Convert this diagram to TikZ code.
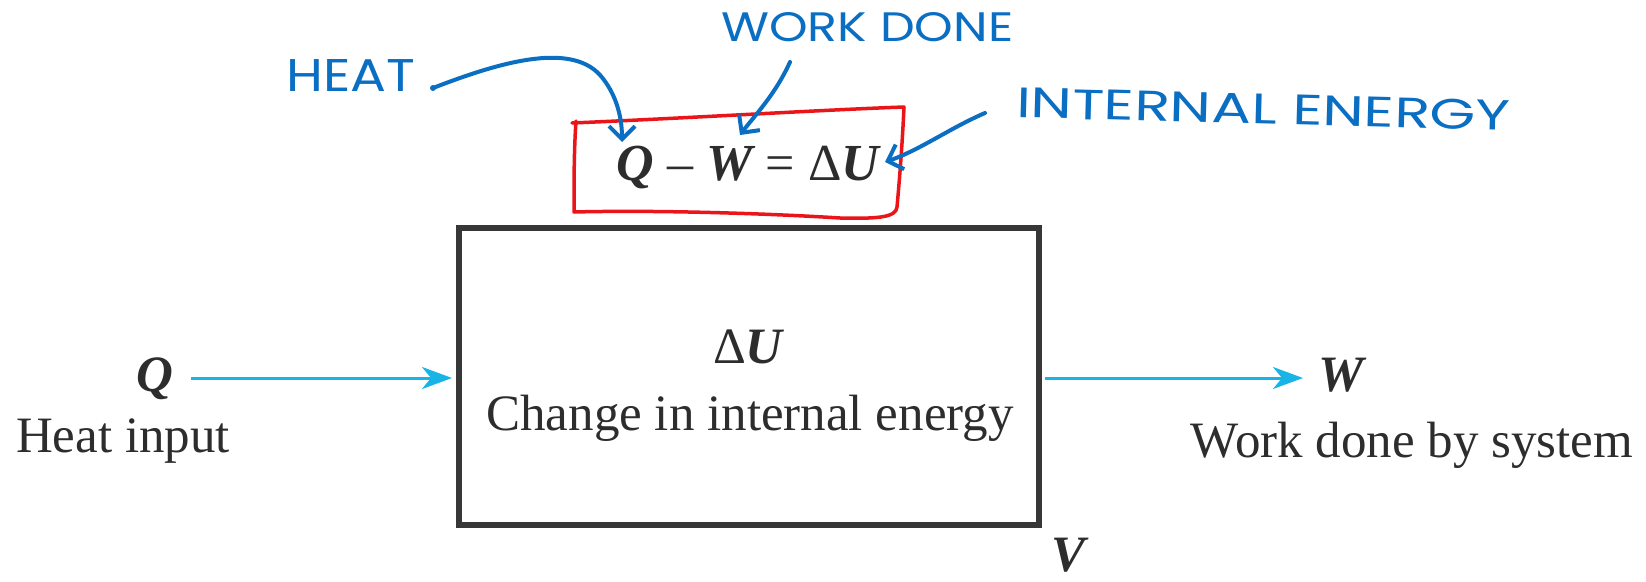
\documentclass[tikz,border=0pt]{standalone}
\usepackage{fontspec}
\setmainfont{Liberation Serif}
\newfontfamily\handfont{Poppins}
\usetikzlibrary{arrows.meta}
\definecolor{ink}{RGB}{45,45,45}
\definecolor{boxgray}{RGB}{55,55,55}
\definecolor{flow}{RGB}{25,180,230}
\definecolor{pen}{RGB}{10,110,195}
\definecolor{marker}{RGB}{235,20,25}
\newcommand{\bi}[1]{{\bfseries\itshape #1}}
\begin{document}
\begin{tikzpicture}[x=1pt,y=-1pt,
  txt/.style={font=\fontsize{51}{60}\selectfont, text=ink, inner sep=0pt, anchor=base},
  flowarrow/.style={draw=flow, line width=3pt, -{Stealth[length=30pt,width=22pt,inset=9pt]}},
  penline/.style={draw=pen, line width=4pt, line cap=round, line join=round},
  penarrow/.style={penline, -{Straight Barb[length=13pt,width=26pt,line width=4pt]}},
  hand/.style={text=pen, inner sep=0pt, anchor=south west, font=\handfont\fontsize{40}{40}\selectfont},
]
\useasboundingbox (0,0) rectangle (1646,581);
\fill[white] (0,0) rectangle (1646,581);

% system box
\node[draw=boxgray, line width=6pt, minimum width=580pt, minimum height=297pt, inner sep=0pt] (sys) at (749,376.5) {};
\node[txt] (du) at (748,363) {Δ\bi{U}};
\node[txt] (cie) at (750,430) {Change in internal energy};

% inputs / outputs
\node[txt] (qlab) at (155,391) {\bi{Q}};
\node[txt] (heat) at (123,452) {Heat input};
\node[txt] (wlab) at (1341,391) {\bi{W}};
\node[txt] (work) at (1412,457) {Work done by system};
\node[txt] (vlab) at (1068,571) {\bi{V}};

\coordinate (qs) at (191,378);
\coordinate (we) at (1303,378);
\draw[flowarrow, shorten >=4pt] (qs) -- (qs -| sys.west);
\draw[flowarrow, shorten <=3pt] (sys.east |- we) -- (we);

% equation
\node[txt, font=\fontsize{52}{60}\selectfont] (eq) at (748,180) {\bi{Q} – \bi{W} = Δ\bi{U}};

% red marker box
\draw[marker, line width=3.5pt, line cap=round, line join=round]
  (572,123) .. controls (690,118) and (820,110) .. (904,107)
  .. controls (902,150) and (899,185) .. (897,207)
  .. controls (896,217) and (880,219) .. (840,218)
  .. controls (760,213) and (650,210) .. (574,212)
  .. controls (574,180) and (574,150) .. (576,121);

% handwritten labels
\node[hand] (heattxt) at (286,92) {\resizebox{129pt}{32pt}{HEAT}};
\node[hand] (worktxt) at (721,42) {\resizebox{292pt}{29pt}{WORK DONE}};
\node[hand, rotate=-1.5] (inttxt) at (1016,118) {\resizebox{494pt}{30pt}{INTERNAL ENERGY}};

\coordinate (hs) at (433,88);
\coordinate (ht) at (622,142);
\coordinate (ws) at (790,62);
\coordinate (wt) at (740,135);
\coordinate (is) at (985,113);
\coordinate (it) at (885,162);
\fill[pen] (hs) circle (3pt);
\draw[penarrow] (hs) .. controls (500,62) and (570,42) .. (600,75) .. controls (615,92) and (622,115) .. (ht);
\draw[penarrow] (ws) .. controls (775,95) and (755,115) .. (wt);
\draw[penarrow] (is) .. controls (950,128) and (920,150) .. (it);
\end{tikzpicture}
\end{document}
